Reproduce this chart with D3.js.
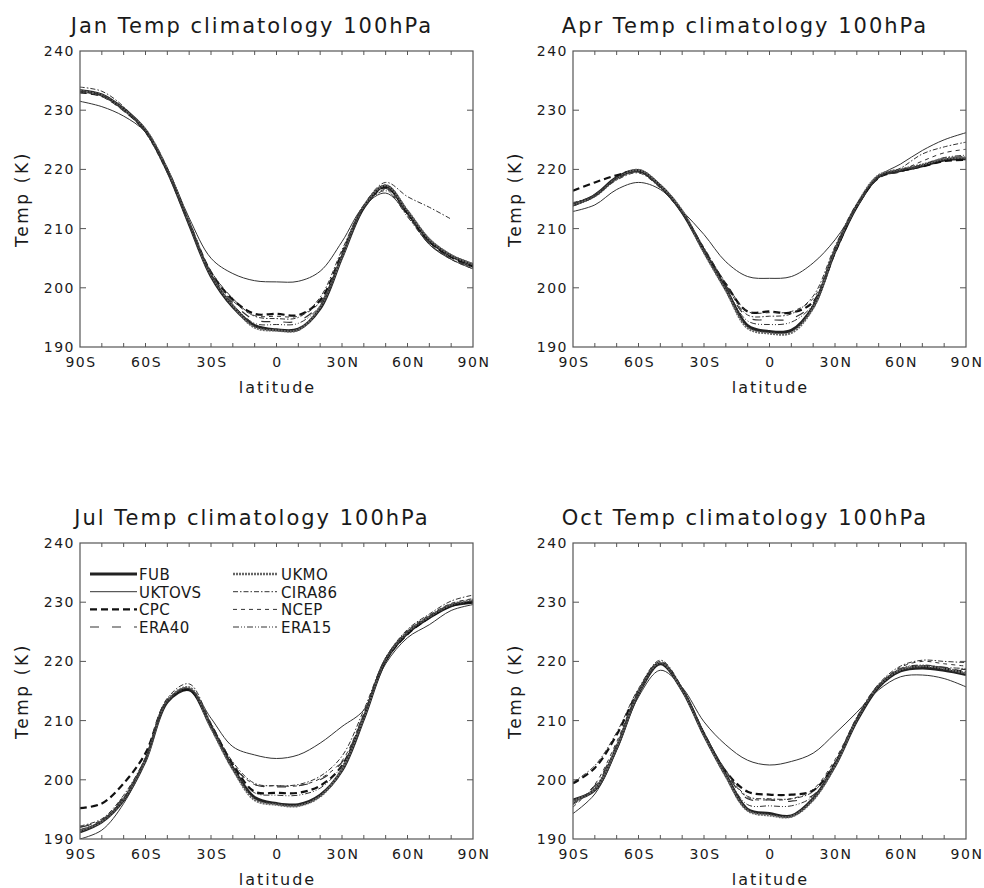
<!DOCTYPE html>
<html lang="en">
<head>
<meta charset="UTF-8">
<title>Temp climatology 100hPa</title>
<style>
  body { margin: 0; background: #fff; }
  svg { display: block; }
  text { font-family: "DejaVu Sans", sans-serif; fill: #1a1a1a; }
  .frame { fill: none; stroke: #555; stroke-width: 1.2; }
  .tick { stroke: #555; stroke-width: 1; }
  .title { font-size: 21px; letter-spacing: 2px; }
  .ticklabel { font-size: 14px; letter-spacing: 1.5px; }
  .axislabel { font-size: 16px; letter-spacing: 2px; }
  .ylabel { font-size: 17px; letter-spacing: 2.6px; }
  .legend { font-size: 15px; letter-spacing: 0.4px; }
  .series { fill: none; stroke-linejoin: round; }
</style>
</head>
<body>
<svg id="chart" width="984" height="888"></svg>
<script src="https://d3js.org/d3.v7.min.js"></script>
<script>
// latitude grid (deg, negative = south)
const latitudes = [-90, -80, -70, -60, -50, -40, -30, -20, -10, 0, 10, 20, 30, 40, 50, 60, 70, 80, 90];
const xTickValues = [-90, -60, -30, 0, 30, 60, 90];
const xTickLabels = ['90S', '60S', '30S', '0', '30N', '60N', '90N'];
const yTickValues = [190, 200, 210, 220, 230, 240];
const months = ['Jan', 'Apr', 'Jul', 'Oct'];
const seriesNames = ['FUB', 'UKTOVS', 'CPC', 'ERA40', 'UKMO', 'CIRA86', 'NCEP', 'ERA15'];

// January, temperature (K) at 100hPa
const janFUB    = [233.3, 232.6, 230.2, 226.6, 219.8, 210.8, 202.0, 196.8, 193.6, 192.9, 193.0, 196.5, 205.2, 213.6, 217.2, 212.8, 208.0, 205.4, 203.9];
const janUKTOVS = [231.5, 230.6, 229.0, 226.3, 220.2, 211.8, 205.0, 202.4, 201.2, 201.0, 201.1, 202.8, 207.8, 213.8, 216.0, 212.4, 207.3, 204.8, 203.2];
const janCPC    = [233.0, 232.4, 230.0, 226.5, 219.9, 211.0, 202.6, 198.0, 195.6, 195.6, 195.4, 197.9, 205.8, 213.6, 217.0, 212.6, 207.8, 205.2, 203.6];
const janERA40  = [233.4, 232.6, 230.0, 226.6, 219.8, 210.8, 202.3, 197.5, 194.6, 194.3, 194.4, 197.3, 205.4, 213.4, 216.8, 212.4, 207.6, 205.0, 203.5];
const janUKMO   = [233.2, 232.5, 230.1, 226.7, 220.0, 211.0, 202.2, 197.0, 193.3, 192.8, 192.9, 196.8, 205.3, 213.8, 217.3, 213.0, 208.2, 205.5, 204.0];
const janCIRA86 = [233.9, 233.2, 230.6, 226.2, 219.4, 210.6, 202.8, 198.2, 195.2, 194.8, 195.0, 198.4, 206.4, 214.0, 217.8, 215.4, 213.6, 211.6, null];
const janNCEP   = [233.1, 232.5, 230.0, 226.5, 219.8, 210.9, 202.5, 197.8, 195.3, 195.2, 195.2, 197.6, 205.6, 213.5, 216.6, 212.2, 207.4, 204.8, 203.2];
const janERA15  = [233.2, 232.5, 230.1, 226.6, 219.9, 210.9, 202.2, 197.2, 194.0, 193.8, 194.0, 197.0, 205.4, 213.5, 216.4, 212.0, 207.4, 204.9, 203.4];

// April
const aprFUB    = [214.0, 215.6, 218.6, 219.8, 217.2, 212.8, 206.2, 199.8, 193.6, 192.6, 192.8, 196.8, 206.2, 213.8, 218.8, 219.8, 220.6, 221.6, 221.8];
const aprUKTOVS = [212.9, 214.0, 216.6, 217.8, 216.6, 213.0, 209.0, 204.4, 201.9, 201.6, 201.9, 204.2, 208.1, 213.6, 218.8, 220.9, 223.2, 225.0, 226.2];
const aprCPC    = [216.4, 217.8, 219.0, 219.7, 217.2, 212.8, 206.4, 200.6, 196.0, 196.0, 195.8, 197.6, 206.0, 213.8, 218.6, 219.7, 220.5, 221.4, 221.6];
const aprERA40  = [214.2, 215.8, 218.6, 219.6, 217.0, 212.6, 206.4, 200.4, 195.0, 194.6, 194.8, 197.4, 206.2, 213.6, 218.6, 219.6, 220.6, 221.8, 222.2];
const aprUKMO   = [214.0, 215.5, 218.4, 219.9, 217.3, 213.0, 206.0, 199.6, 193.2, 192.3, 192.4, 196.6, 206.4, 214.0, 219.0, 220.0, 220.8, 221.8, 222.0];
const aprCIRA86 = [214.4, 215.6, 218.2, 219.4, 216.8, 212.6, 206.8, 200.6, 195.4, 195.2, 195.6, 198.6, 207.0, 214.2, 218.6, 220.2, 222.6, 223.8, 224.6];
const aprNCEP   = [214.2, 215.7, 218.5, 219.6, 217.0, 212.6, 206.6, 200.8, 196.0, 195.8, 196.0, 198.2, 206.6, 214.0, 218.6, 219.8, 221.4, 222.8, 223.4];
const aprERA15  = [213.8, 215.4, 218.4, 219.6, 217.1, 212.8, 206.2, 200.0, 194.4, 193.8, 194.2, 197.2, 206.4, 213.8, 218.8, 219.8, 220.8, 222.0, 222.4];

// July
const julFUB    = [191.2, 192.9, 196.6, 203.3, 213.2, 215.2, 209.0, 202.0, 197.0, 196.0, 195.8, 197.4, 201.6, 210.4, 220.2, 224.8, 227.4, 229.4, 230.0];
const julUKTOVS = [190.0, 191.5, 196.0, 203.4, 213.4, 215.4, 210.4, 205.6, 204.2, 203.6, 204.2, 206.2, 209.0, 211.8, 219.6, 224.0, 226.2, 228.6, 229.6];
const julCPC    = [195.2, 196.0, 199.4, 204.5, 213.4, 215.2, 209.2, 202.6, 198.0, 197.8, 197.8, 199.0, 202.4, 210.8, 220.2, 224.6, 227.4, 229.4, 230.0];
const julERA40  = [192.0, 193.2, 197.2, 203.6, 213.4, 215.6, 209.2, 202.4, 199.2, 198.8, 199.0, 200.0, 203.0, 211.0, 220.4, 225.0, 227.6, 229.6, 230.2];
const julUKMO   = [191.4, 193.0, 196.8, 203.4, 213.4, 215.6, 208.8, 201.8, 196.6, 195.8, 195.6, 197.2, 201.8, 210.6, 220.4, 225.0, 227.6, 229.6, 230.4];
const julCIRA86 = [192.2, 193.4, 197.4, 203.8, 213.8, 216.2, 209.6, 203.0, 199.4, 199.0, 199.2, 200.6, 204.0, 211.8, 220.6, 225.4, 228.0, 230.2, 231.2];
const julNCEP   = [192.0, 193.2, 197.0, 203.6, 213.4, 215.4, 209.2, 202.6, 199.2, 199.0, 199.0, 200.2, 203.2, 211.2, 220.6, 225.2, 227.8, 229.8, 230.6];
const julERA15  = [191.6, 193.0, 196.8, 203.4, 213.2, 215.4, 209.0, 202.2, 197.8, 197.4, 197.4, 198.6, 202.4, 210.8, 220.4, 225.0, 227.6, 229.6, 230.2];

// October
const octFUB    = [196.6, 198.3, 205.4, 214.6, 219.6, 215.2, 207.6, 200.8, 195.0, 194.3, 193.9, 196.8, 202.4, 210.0, 215.7, 218.4, 218.9, 218.5, 217.8];
const octUKTOVS = [194.3, 197.6, 205.0, 214.0, 218.5, 215.6, 209.8, 205.9, 203.3, 202.5, 203.1, 204.5, 207.8, 211.4, 215.2, 217.4, 217.7, 217.1, 215.7];
const octCPC    = [199.4, 202.0, 207.6, 215.0, 219.8, 215.2, 207.8, 201.4, 198.0, 197.5, 197.5, 198.2, 202.8, 210.2, 215.8, 218.6, 219.2, 218.8, 218.2];
const octERA40  = [196.0, 199.0, 206.0, 214.8, 219.8, 215.4, 207.8, 201.2, 196.8, 196.6, 196.4, 197.4, 202.6, 210.2, 215.8, 218.6, 219.2, 219.0, 218.6];
const octUKMO   = [196.4, 198.4, 205.6, 214.8, 219.8, 215.2, 207.6, 200.6, 194.8, 194.0, 193.8, 196.6, 202.4, 210.2, 215.9, 218.6, 219.2, 218.8, 218.0];
const octCIRA86 = [199.6, 202.4, 208.0, 215.4, 220.2, 215.6, 208.0, 201.6, 197.2, 196.8, 196.8, 198.0, 203.0, 210.6, 216.2, 219.2, 220.2, 220.0, 219.8];
const octNCEP   = [195.4, 199.2, 206.4, 215.0, 220.0, 215.4, 207.8, 201.4, 197.0, 196.6, 196.8, 198.4, 203.4, 210.4, 216.0, 219.0, 220.0, 219.6, 219.2];
const octERA15  = [195.8, 198.8, 205.8, 214.8, 219.6, 215.4, 207.8, 201.0, 195.8, 195.6, 195.6, 197.2, 202.6, 210.2, 215.8, 218.8, 219.4, 219.0, 218.8];

const monthData = [
  [janFUB, janUKTOVS, janCPC, janERA40, janUKMO, janCIRA86, janNCEP, janERA15],
  [aprFUB, aprUKTOVS, aprCPC, aprERA40, aprUKMO, aprCIRA86, aprNCEP, aprERA15],
  [julFUB, julUKTOVS, julCPC, julERA40, julUKMO, julCIRA86, julNCEP, julERA15],
  [octFUB, octUKTOVS, octCPC, octERA40, octUKMO, octCIRA86, octNCEP, octERA15]
];

// line styles, one per data set
const lineStyle = {
  FUB:    {width: 3.0, dash: null,            color: '#222'},
  UKTOVS: {width: 1.0, dash: null,            color: '#333'},
  CPC:    {width: 2.2, dash: '7,4',           color: '#111'},
  ERA40:  {width: 1.2, dash: '9,13',          color: '#333'},
  UKMO:   {width: 2.4, dash: '2,1',           color: '#666'},
  CIRA86: {width: 1.0, dash: '5,2,1.5,2',     color: '#333'},
  NCEP:   {width: 1.0, dash: '4,4',           color: '#333'},
  ERA15:  {width: 1.0, dash: '6,2,1,2,1,2',   color: '#333'}
};

const svg = d3.select('#chart');
const plotW = 393, plotH = 296;
const panels = [
  {left: 80,  top: 51},
  {left: 573, top: 51},
  {left: 80,  top: 543},
  {left: 573, top: 543}
];

const x = d3.scaleLinear().domain([-90, 90]).range([0, plotW]);
const y = d3.scaleLinear().domain([190, 240]).range([plotH, 0]);

panels.forEach((p, i) => {
  const g = svg.append('g').attr('transform', `translate(${p.left},${p.top})`);

  g.append('clipPath').attr('id', 'clip' + i)
    .append('rect').attr('x', 0).attr('y', -2).attr('width', plotW).attr('height', plotH + 2);

  // title
  g.append('text').attr('class', 'title')
    .attr('x', 172).attr('y', -18)
    .attr('text-anchor', 'middle')
    .text(`${months[i]} Temp climatology 100hPa`);

  // ticks: every 10 deg on bottom and top, every 10 K on left and right
  const xMinor = d3.range(-80, 90, 10);
  g.selectAll('.xt').data(xMinor).enter().append('line')
    .attr('class', 'tick')
    .attr('x1', d => x(d)).attr('x2', d => x(d))
    .attr('y1', plotH).attr('y2', plotH - 4);
  g.selectAll('.xtt').data(xMinor).enter().append('line')
    .attr('class', 'tick')
    .attr('x1', d => x(d)).attr('x2', d => x(d))
    .attr('y1', 0).attr('y2', 4);
  const yInner = yTickValues.slice(1, -1);
  g.selectAll('.yt').data(yInner).enter().append('line')
    .attr('class', 'tick')
    .attr('x1', 0).attr('x2', 6)
    .attr('y1', d => y(d)).attr('y2', d => y(d));
  g.selectAll('.ytr').data(yInner).enter().append('line')
    .attr('class', 'tick')
    .attr('x1', plotW).attr('x2', plotW - 6)
    .attr('y1', d => y(d)).attr('y2', d => y(d));

  // tick labels
  g.selectAll('.xl').data(xTickValues).enter().append('text')
    .attr('class', 'ticklabel')
    .attr('x', d => x(d) + 1).attr('y', plotH + 20)
    .attr('text-anchor', 'middle')
    .text((d, k) => xTickLabels[k]);
  g.selectAll('.yl').data(yTickValues).enter().append('text')
    .attr('class', 'ticklabel')
    .attr('x', -5).attr('y', d => y(d) + 5)
    .attr('text-anchor', 'end')
    .text(d => d);

  // axis titles
  g.append('text').attr('class', 'axislabel')
    .attr('x', plotW / 2 + 1).attr('y', plotH + 46)
    .attr('text-anchor', 'middle')
    .text('latitude');
  g.append('text').attr('class', 'ylabel')
    .attr('transform', `translate(-52,${plotH / 2}) rotate(-90)`)
    .attr('text-anchor', 'middle')
    .text('Temp (K)');

  // data lines
  const line = d3.line()
    .defined(d => d.t != null)
    .x(d => x(d.lat))
    .y(d => y(d.t))
    .curve(d3.curveCatmullRom.alpha(0.5));

  const lines = g.append('g').attr('clip-path', `url(#clip${i})`);
  seriesNames.forEach((name, s) => {
    const pts = latitudes.map((lat, k) => ({lat: lat, t: monthData[i][s][k]}));
    const st = lineStyle[name];
    lines.append('path')
      .attr('class', 'series')
      .attr('d', line(pts))
      .attr('stroke', st.color)
      .attr('stroke-width', st.width)
      .attr('stroke-dasharray', st.dash);
  });

  // frame
  g.append('rect').attr('class', 'frame')
    .attr('x', 0).attr('y', 0).attr('width', plotW).attr('height', plotH);

  // legend only in the July panel
  if (i === 2) {
    const cols = [{x1: 10, x2: 57, tx: 59}, {x1: 153, x2: 197, tx: 201}];
    const rowY = [37, 54.7, 72.4, 90];
    seriesNames.forEach((name, s) => {
      const c = cols[s < 4 ? 0 : 1];
      const ry = rowY[s % 4];
      const st = lineStyle[name];
      g.append('line')
        .attr('x1', c.x1).attr('x2', c.x2)
        .attr('y1', ry - 6).attr('y2', ry - 6)
        .attr('stroke', st.color)
        .attr('stroke-width', st.width)
        .attr('stroke-dasharray', st.dash);
      g.append('text').attr('class', 'legend')
        .attr('x', c.tx).attr('y', ry)
        .text(name);
    });
  }
});
</script>
</body>
</html>
